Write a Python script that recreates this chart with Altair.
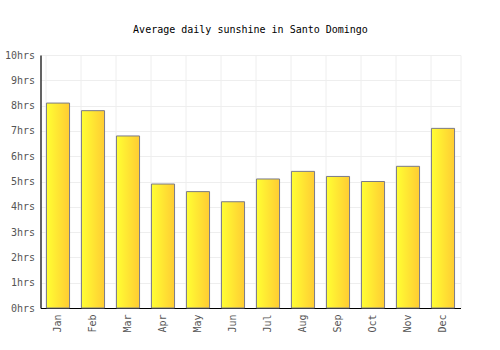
import altair as alt
import pandas as pd

months = ["Jan", "Feb", "Mar", "Apr", "May", "Jun", "Jul", "Aug", "Sep", "Oct", "Nov", "Dec"]
sunshine = [8.1, 7.8, 6.8, 4.9, 4.6, 4.2, 5.1, 5.4, 5.2, 5.0, 5.6, 7.1]
y_ticks = [0, 1, 2, 3, 4, 5, 6, 7, 8, 9, 10]

df = pd.DataFrame({"month": months, "hours": sunshine})

FONT = "DejaVu Sans Mono"

grad = alt.Gradient(
    gradient="linear",
    stops=[alt.GradientStop(color="#ffff33", offset=0), alt.GradientStop(color="#ffcc33", offset=1)],
    x1=0, x2=1, y1=0, y2=0,
)

chart = alt.Chart(df).mark_bar(
    color=grad, stroke="#7a7a88", strokeWidth=1
).encode(
    x=alt.X("month:N", sort=months, title=None,
            scale=alt.Scale(paddingInner=0.34, paddingOuter=0.17),
            axis=alt.Axis(labelAngle=-90, labelAlign="right", labelBaseline="middle",
                          ticks=False, labelPadding=6, grid=True, bandPosition=0,
                          gridColor="#eeeeee", domainColor="#000000", domainWidth=1.2)),
    y=alt.Y("hours:Q", title=None,
            scale=alt.Scale(domain=[0, 10], nice=False),
            axis=alt.Axis(values=y_ticks, labelExpr="datum.value + 'hrs'", ticks=False,
                          labelPadding=6, gridColor="#eeeeee", domainColor="#000000",
                          domainWidth=1.2)),
).properties(
    width=420, height=253,
    title=alt.TitleParams("Average daily sunshine in Santo Domingo", font=FONT, fontSize=10,
                          fontWeight="normal", color="#000000", offset=15),
    autosize=alt.AutoSizeParams(type="none"),
    padding={"left": 40.5, "top": 55, "right": 39.5, "bottom": 42},
).configure_axis(
    labelFont=FONT, labelFontSize=10, labelColor="#555555",
).configure_view(
    stroke="#eeeeee"
)

chart.save("out.html", embed_options={"renderer": "svg", "actions": False})
